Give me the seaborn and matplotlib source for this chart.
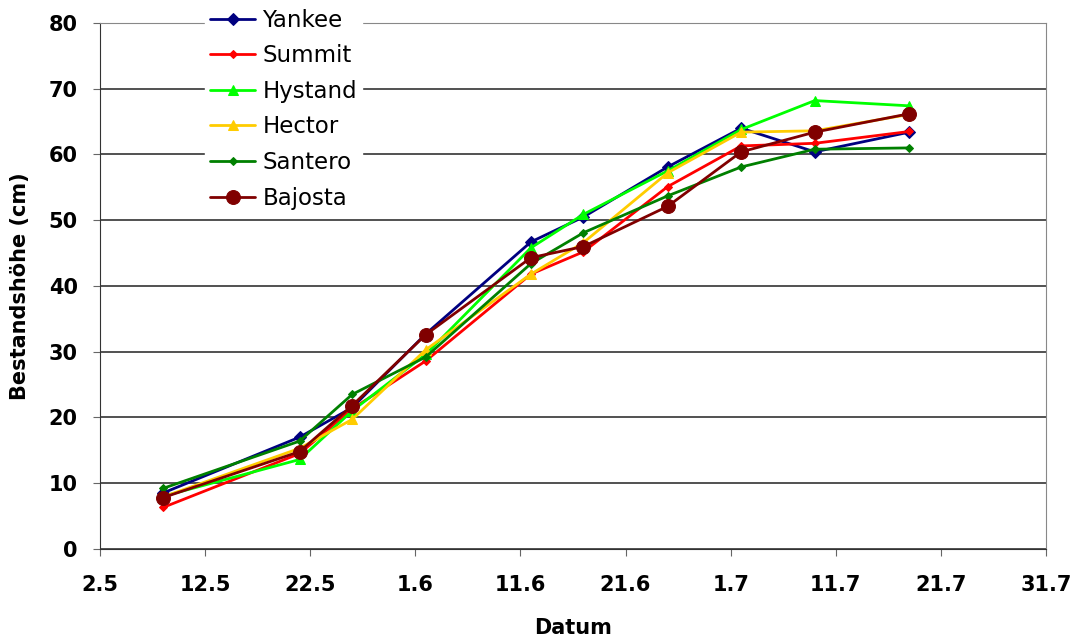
import pandas as pd
import seaborn as sns
import matplotlib.pyplot as plt

# Messtermine und Bestandshöhen (cm)
dates = ["2008-05-08", "2008-05-21", "2008-05-26", "2008-06-02", "2008-06-12",
         "2008-06-17", "2008-06-25", "2008-07-02", "2008-07-09", "2008-07-18"]

yankee = [8.5, 17.0, 21.5, 32.7, 46.7, 50.5, 58.1, 64.0, 60.4, 63.4]
summit = [6.3, 14.5, 21.3, 28.6, 41.8, 45.2, 55.1, 61.3, 61.7, 63.5]
hystand = [8.0, 13.6, 21.0, 29.6, 45.8, 50.9, 57.5, 63.8, 68.2, 67.4]
hector = [7.9, 15.3, 19.7, 30.3, 41.8, 46.6, 57.2, 63.4, 63.6, 66.1]
santero = [9.2, 16.4, 23.5, 29.2, 43.4, 48.1, 53.7, 58.1, 60.8, 61.0]
bajosta = [7.8, 14.8, 21.8, 32.6, 44.3, 46.0, 52.1, 60.4, 63.4, 66.2]

tick_dates = ["2008-05-02", "2008-05-12", "2008-05-22", "2008-06-01", "2008-06-11",
              "2008-06-21", "2008-07-01", "2008-07-11", "2008-07-21", "2008-07-31"]
tick_labels = ["2.5", "12.5", "22.5", "1.6", "11.6", "21.6", "1.7", "11.7", "21.7", "31.7"]

x = pd.to_datetime(dates)

sns.set_style("white")
plt.rcParams['font.family'] = ['DejaVu Sans']
plt.rcParams['text.color'] = 'black'
plt.rcParams['axes.labelcolor'] = 'black'
plt.rcParams['xtick.color'] = 'black'
plt.rcParams['ytick.color'] = 'black'

fig, ax = plt.subplots(figsize=(10.74, 6.39), dpi=100)
fig.subplots_adjust(left=0.093, right=0.974, bottom=0.141, top=0.964)

# name, werte, farbe, marker, groesse
series = [
    ("Yankee", yankee, "#000080", "D", 6.5),
    ("Summit", summit, "#FF0000", "D", 4),
    ("Hystand", hystand, "#00FF00", "^", 7),
    ("Hector", hector, "#FFCC00", "^", 7),
    ("Santero", santero, "#008000", "D", 4),
    ("Bajosta", bajosta, "#800000", "o", 10),
]

for name, vals, col, mk, ms in series:
    sns.lineplot(x=x, y=vals, ax=ax, color=col, marker=mk, markersize=ms,
                 markeredgecolor=col, linewidth=2, label=name)

ax.set_ylim(0, 80)
ax.set_yticks(range(0, 81, 10))
ax.set_xlim(pd.Timestamp(tick_dates[0]), pd.Timestamp(tick_dates[-1]))
ax.set_xticks(pd.to_datetime(tick_dates))
ax.set_xticklabels(tick_labels)

ax.grid(axis="y", color="#222222", linewidth=1.1)
ax.set_axisbelow(True)
for s in ["left", "bottom"]:
    ax.spines[s].set_color("#333333")
for s in ["top", "right"]:
    ax.spines[s].set_color("#888888")

ax.tick_params(axis="both", direction="out", length=5, color="#666666",
               labelsize=15, labelcolor="black", bottom=True, left=True)
ax.tick_params(axis="x", pad=14)
ax.tick_params(axis="y", pad=11)
for lbl in ax.get_xticklabels() + ax.get_yticklabels():
    lbl.set_fontweight("bold")

ax.set_xlabel("Datum", fontsize=15, fontweight="bold", labelpad=16)
ax.set_ylabel("Bestandshöhe (cm)", fontsize=15, fontweight="bold", labelpad=13)

leg = ax.legend(loc="upper left", bbox_to_anchor=(205 / 1074, 1 - 4 / 639),
                bbox_transform=fig.transFigure, frameon=True, fontsize=16.5,
                handlelength=2.0, handletextpad=0.3, labelspacing=0.55,
                borderpad=0.2, borderaxespad=0)
leg.get_frame().set_facecolor("white")
leg.get_frame().set_edgecolor("white")
leg.get_frame().set_alpha(1)

plt.savefig("out.png", dpi=100)
